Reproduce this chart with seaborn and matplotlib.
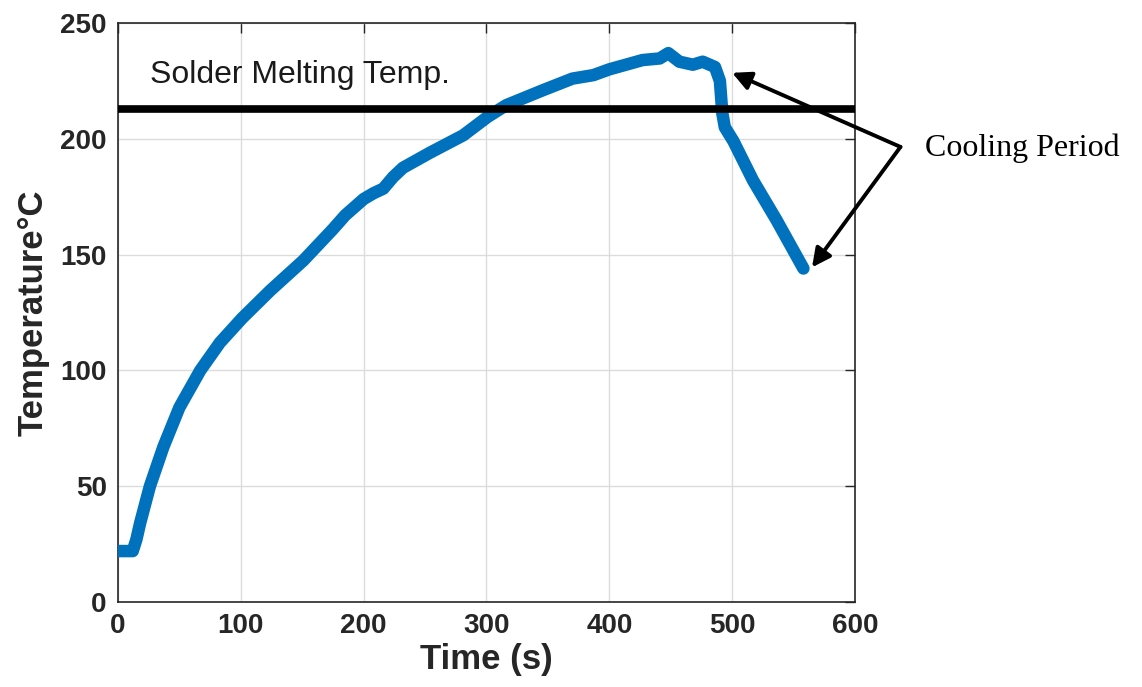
import matplotlib
matplotlib.use("Agg")
import matplotlib.pyplot as plt
import seaborn as sns
import pandas as pd

# ---- data ----
time_s = [0, 12, 15, 18, 26, 37, 50, 67, 83, 101, 124, 151, 175, 185, 200, 208, 216,
          224, 232, 254, 281, 301, 316, 346, 370, 387, 400, 427, 441, 448, 457, 468,
          476, 486, 490, 492, 494, 501, 517, 536, 558]
temperature = [22, 22, 27, 34, 50, 67, 84, 100, 112, 122.5, 134.5, 147.5, 161, 167, 174, 176.5, 178.5,
               183.5, 187.5, 194, 201.5, 209.5, 214.5, 221, 226, 227.5, 230, 234, 234.7, 237, 233.3, 232,
               233.3, 231, 225, 211, 205, 199, 182, 165, 144]
melting_temp = 213
x_ticks = [0, 100, 200, 300, 400, 500, 600]
y_ticks = [0, 50, 100, 150, 200, 250]
arrow_tail = (637, 196.5)
arrow_heads = [(500, 228.5), (565, 144.5)]

df = pd.DataFrame({"Time": time_s, "Temp": temperature})

sns.set_theme(style="white")
plt.rcParams["font.family"] = ["Liberation Sans", "DejaVu Sans"]

fig = plt.figure(figsize=(11.42, 6.87), dpi=100)
ax = fig.add_axes([0.1033, 0.1237, 0.6454, 0.8428])

sns.lineplot(data=df, x="Time", y="Temp", ax=ax, sort=False, color="#0072BD",
             linewidth=9, solid_capstyle="round", solid_joinstyle="round",
             zorder=3)
ax.axhline(melting_temp, color="black", linewidth=5.5, zorder=4)

ax.set_xlim(0, 600)
ax.set_ylim(0, 250)
ax.set_xticks(x_ticks)
ax.set_yticks(y_ticks)
ax.set_xticklabels([str(v) for v in x_ticks], fontsize=20, fontweight="bold", color="#262626")
ax.set_yticklabels([str(v) for v in y_ticks], fontsize=20, fontweight="bold", color="#262626")
ax.tick_params(direction="in", length=7, width=1, top=True, right=True,
               color="#262626", pad=8)
ax.grid(True, color="#dcdcdc", linewidth=1)
for s in ax.spines.values():
    s.set_color("#262626")
    s.set_linewidth(1.2)
    s.set_visible(True)

ax.set_xlabel("Time (s)", fontsize=25, fontweight="bold", color="#262626", labelpad=3)
ax.set_ylabel("Temperature°C", fontsize=25, fontweight="bold", color="#262626", labelpad=8)

ax.text(26, 227.5, "Solder Melting Temp.", fontsize=23, color="#1a1a1a",
        ha="left", va="center", zorder=5)

for hx, hy in arrow_heads:
    ax.annotate("", xy=(hx, hy), xytext=arrow_tail, xycoords="data",
                textcoords="data", annotation_clip=False,
                arrowprops=dict(arrowstyle="-|>", color="black", lw=2.8,
                                mutation_scale=28, shrinkA=0, shrinkB=0))

ax.text(657, 196, "Cooling Period", fontsize=23, family=["Liberation Serif", "DejaVu Serif"],
        ha="left", va="center", color="black", clip_on=False)

fig.savefig("out.png", dpi=100)
